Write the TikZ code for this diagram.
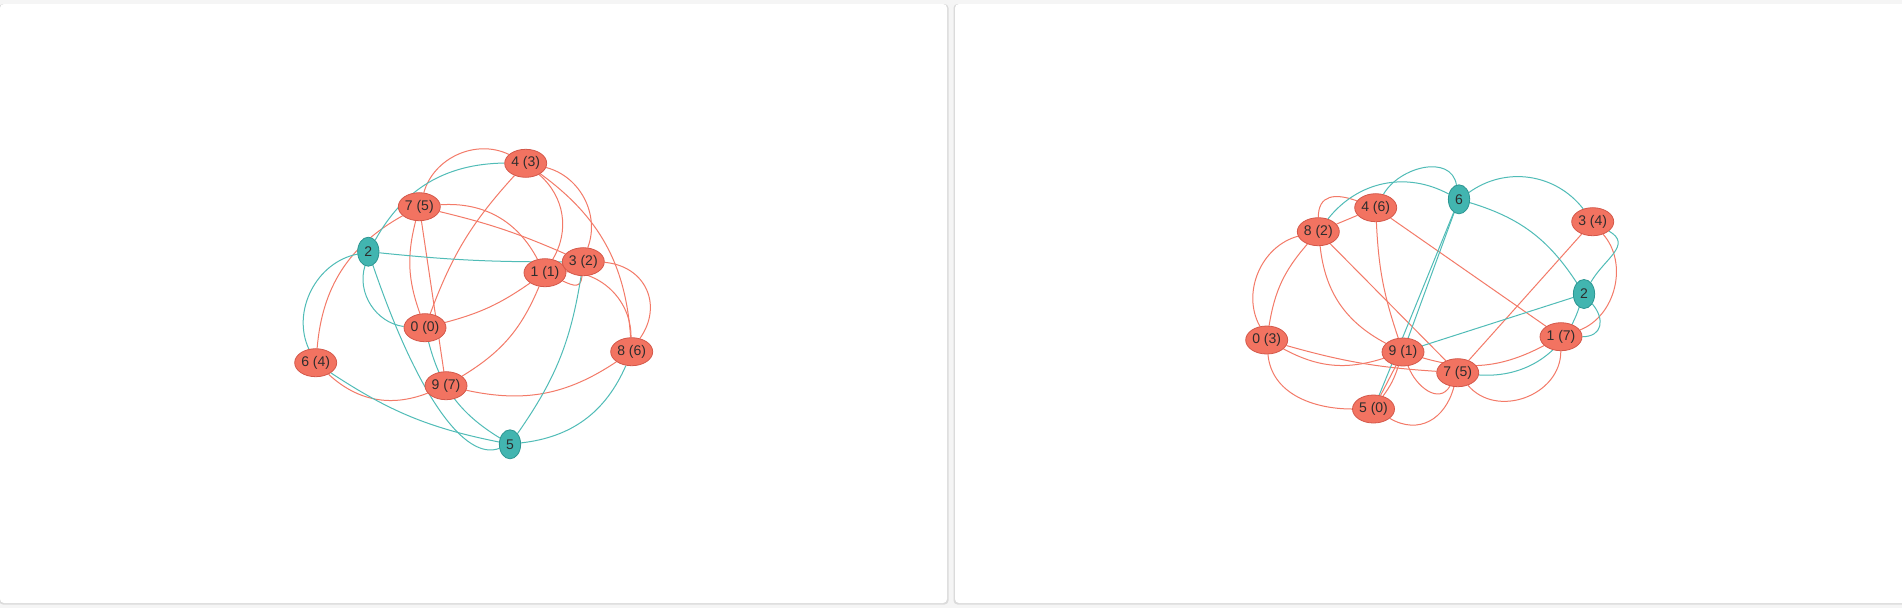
\documentclass[tikz,border=0pt]{standalone}
\usepackage{fontspec}
\setmainfont{Liberation Sans}
\usetikzlibrary{shapes.geometric}
\definecolor{salmon}{RGB}{242,115,97}
\definecolor{salmonline}{RGB}{212,88,74}
\definecolor{salmonedge}{RGB}{243,122,104}
\definecolor{tealfill}{RGB}{66,181,176}
\definecolor{tealline}{RGB}{44,150,146}
\definecolor{tealedge}{RGB}{80,188,183}
\definecolor{labelgray}{RGB}{45,45,45}
\pgfdeclarelayer{back}
\pgfdeclarelayer{edges}
\pgfsetlayers{back,edges,main}

\begin{document}
\begin{tikzpicture}[x=0.75pt, y=0.75pt, font=\fontsize{10.5}{12}\selectfont, text=labelgray,
  rnode/.style={ellipse, draw=salmonline, fill=salmon, line width=0.6pt, minimum width=31.5pt, minimum height=21pt, inner sep=0pt},
  tnode/.style={ellipse, draw=tealline, fill=tealfill, line width=0.6pt, minimum width=16pt, minimum height=21.75pt, inner sep=0pt},
  redge/.style={draw=salmonedge, line width=0.75pt},
  tedge/.style={draw=tealedge, line width=0.75pt}]
\useasboundingbox (0,0) rectangle (1902,-608);

% page and the two cards
\begin{pgfonlayer}{back}
\fill[black!4] (0,0) rectangle (1902,-608);
\fill[black!14, rounded corners=3] (-1,-4) rectangle (948.5,-604.5);
\fill[white, rounded corners=3] (0,-4) rectangle (947,-603);
\fill[black!14, rounded corners=3] (953.5,-4) rectangle (1910,-604.5);
\fill[white, rounded corners=3] (955,-4) rectangle (1910,-603);
\end{pgfonlayer}

% left graph
\foreach \n/\x/\y/\t in {L4/525.7/163.3/{4 (3)}, L7/419.3/206.7/{7 (5)}, L1/545/272.7/{1 (1)},
    L3/583.3/261.7/{3 (2)}, L0/425/327.7/{0 (0)}, L6/315.7/362.7/{6 (4)},
    L9/446/385.7/{9 (7)}, L8/631.7/351.7/{8 (6)}}
  \node[rnode] (\n) at (\x,-\y) {\t};
\node[tnode] (L2) at (368.3,-251.7) {2};
\node[tnode] (L5) at (510,-444.3) {5};

% right graph
\foreach \n/\x/\y/\t in {R4/1375.7/207.7/{4 (6)}, R8/1318.3/231.7/{8 (2)}, R3/1592.7/221.7/{3 (4)},
    R0/1266.7/340/{0 (3)}, R9/1403/352/{9 (1)}, R1/1561/336.7/{1 (7)},
    R7/1457.7/372.7/{7 (5)}, R5/1373.5/409/{5 (0)}}
  \node[rnode] (\n) at (\x,-\y) {\t};
\node[tnode] (R6) at (1459,-199.3) {6};
\node[tnode] (R2) at (1584,-294) {2};

\begin{pgfonlayer}{edges}
% left edges
\foreach \a/\b/\k in {L7/L4/50, L4/L0/-11, L4/L1/40, L4/L3/48, L4/L8/25, L7/L1/33, L7/L3/5,
    L7/L0/-17, L7/L9/0, L7/L6/-28, L0/L1/-10, L1/L9/18, L1/L8/45, L6/L9/-32, L9/L8/-23}
  \draw[redge] (\a) to[bend left=\k] (\b);
\draw[redge] (L1) to[out=-25, in=-95, looseness=1.6] (L3);
\draw[redge] (L3) to[bend left=60, looseness=1.25] (L8);
\foreach \a/\b/\k in {L2/L4/30, L2/L3/-3, L2/L0/-50, L2/L6/-52, L5/L3/-13, L6/L5/-11,
    L5/L8/-30, L0/L5/-22}
  \draw[tedge] (\a) to[bend left=\k] (\b);
\draw[tedge] (L2) .. controls (418,-397.3) and (465.3,-461.3) .. (L5);

% right edges
\foreach \a/\b/\k in {R8/R4/0, R4/R9/-8, R4/R1/0, R8/R0/-52, R8/R0/-16, R8/R9/-28, R8/R7/0,
    R0/R9/-23, R0/R7/-6, R9/R1/-22, R9/R5/0, R9/R5/9, R3/R7/0, R3/R1/55}
  \draw[redge] (\a) to[bend left=\k] (\b);
\draw[redge] (R8) to[out=90, in=160, looseness=1.4] (R4);
\draw[redge] (R0) to[out=-85, in=180] (R5);
\draw[redge] (R9) to[out=-70, in=-120, looseness=1.2] (R7);
\draw[redge] (R7) to[out=-105, in=-30, looseness=1.2] (R5);
\draw[redge] (R7) to[bend right=70, looseness=1.15] (R1);
\foreach \a/\b/\k in {R6/R8/-40, R6/R3/44, R6/R2/20, R6/R9/0, R6/R5/0, R2/R9/0, R2/R7/38}
  \draw[tedge] (\a) to[bend left=\k] (\b);
\draw[tedge] (R6) to[out=100, in=60, looseness=1.1] (R4);
\draw[tedge] (R2) to[out=60, in=-30, looseness=1.3] (R3);
\draw[tedge] (R2) to[out=-50, in=0, looseness=1.5] (R1);
\end{pgfonlayer}
\end{tikzpicture}
\end{document}
